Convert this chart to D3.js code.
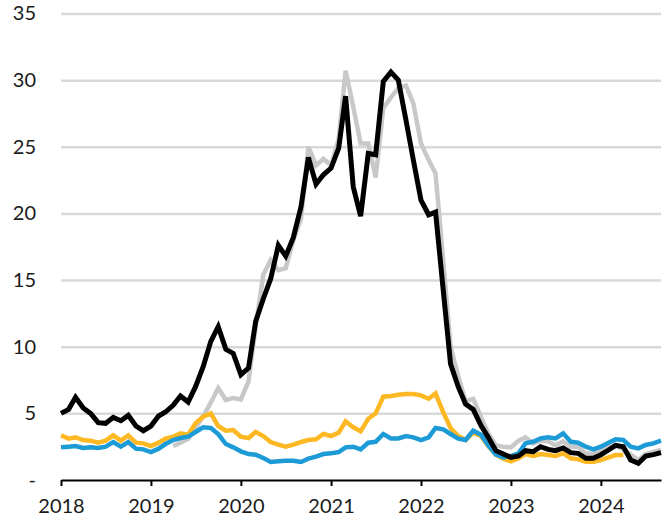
<!DOCTYPE html>
<html>
<head>
<meta charset="utf-8">
<script src="https://cdn.jsdelivr.net/npm/d3@7"></script>
<style>
  body { margin: 0; background: #fff; }
  svg { display: block; }
</style>
</head>
<body>
<div id="chart"></div>
<script>
// monthly series, Jan 2018 - Sep 2024
var startMonth = new Date(2018, 0, 1),
    endMonth = new Date(2024, 8, 1);

var yTicks = [0, 5, 10, 15, 20, 25, 30, 35];
var xTickYears = [2018, 2019, 2020, 2021, 2022, 2023, 2024];

var blackSeries = [
  5.0, 5.3, 6.2, 5.4, 5.0, 4.3, 4.25, 4.7, 4.45, 4.85,
  4.05, 3.7, 4.05, 4.8, 5.1, 5.6, 6.3, 5.85, 7.0, 8.5,
  10.4, 11.5, 9.8, 9.5, 7.9, 8.4, 11.9, 13.6, 15.1, 17.6,
  16.8, 18.2, 20.5, 24.2, 22.2, 22.9, 23.4, 24.9, 28.8, 22.0,
  19.8, 24.5, 24.4, 29.9, 30.6, 30.0, 27.0, 24.0, 21.0, 19.9,
  20.1, 14.3, 8.7, 7.0, 5.7, 5.3, 4.1, 3.2, 2.2, 1.95,
  1.7, 1.8, 2.2, 2.12, 2.5, 2.3, 2.2, 2.4, 2.05, 2.0,
  1.63, 1.63, 1.9, 2.25, 2.6, 2.5, 1.5, 1.25, 1.8, 1.9, 2.05
];

var graySeries = [
  null, null, null, null, null, null, null, null, null, null,
  null, null, null, null, null, 2.55, 2.8, 3.1, 3.9, 4.8,
  5.8, 6.9, 6.0, 6.15, 6.05, 7.4, 11.5, 15.4, 16.5, 15.75,
  15.9, 18.0, 19.6, 25.0, 23.6, 24.1, 23.6, 25.6, 30.7, 28.0,
  25.25, 25.25, 22.7, 27.9, 28.7, 29.4, 29.6, 28.25, 25.25, 24.0,
  23.0, 16.5, 10.0, 7.8, 5.9, 6.1, 4.75, 3.5, 2.6, 2.5,
  2.45, 2.95, 3.2, 2.75, 2.95, 2.9, 2.6, 2.9, 2.5, 2.5,
  2.0, 1.95, 2.25, 2.5, 2.6, 2.3, 1.9, 1.5, 1.95, 2.1, 2.25
];

var orangeSeries = [
  3.35, 3.1, 3.2, 3.0, 2.95, 2.8, 2.95, 3.35, 2.95, 3.35,
  2.8, 2.75, 2.55, 2.8, 3.1, 3.25, 3.5, 3.4, 4.25, 4.75,
  5.0, 4.05, 3.7, 3.75, 3.25, 3.15, 3.6, 3.3, 2.85, 2.65,
  2.5, 2.65, 2.85, 3.0, 3.05, 3.45, 3.3, 3.55, 4.4, 3.95,
  3.65, 4.6, 5.0, 6.25, 6.3, 6.4, 6.45, 6.45, 6.35, 6.1,
  6.5, 5.1, 3.9, 3.3, 3.0, 3.55, 3.3, 2.55, 1.9, 1.6,
  1.4, 1.63, 1.95, 1.8, 1.95, 1.87, 1.8, 2.0, 1.63, 1.55,
  1.37, 1.37, 1.5, 1.7, 1.87, 1.87
];

var blueSeries = [
  2.45, 2.5, 2.55, 2.4, 2.45, 2.4, 2.5, 2.85, 2.5, 2.85,
  2.35, 2.3, 2.1, 2.35, 2.7, 3.0, 3.15, 3.25, 3.6, 3.95,
  3.9, 3.45, 2.7, 2.45, 2.15, 1.95, 1.9, 1.65, 1.35, 1.4,
  1.45, 1.45, 1.35, 1.6, 1.75, 1.95, 2.0, 2.1, 2.45, 2.5,
  2.3, 2.8, 2.87, 3.45, 3.12, 3.12, 3.3, 3.2, 3.0, 3.2,
  3.9, 3.8, 3.45, 3.1, 3.0, 3.7, 3.4, 2.6, 1.9, 1.7,
  1.8, 2.0, 2.75, 2.87, 3.12, 3.2, 3.12, 3.5, 2.87, 2.8,
  2.5, 2.3, 2.5, 2.8, 3.05, 3.0, 2.5, 2.37, 2.63, 2.75, 2.95
];

var width = 663, height = 519;
var margin = { left: 61, right: 2, top: 13.5, bottom: 39 };
var figw = width - margin.left - margin.right,
    figh = height - margin.top - margin.bottom;
var fontFamily = "Lato, 'Open Sans', sans-serif";

var months = d3.timeMonth.range(startMonth, d3.timeMonth.offset(endMonth, 1));

var xScale = d3.scaleTime().domain([startMonth, endMonth]).range([0, figw]);
var yScale = d3.scaleLinear().domain([0, 35]).range([figh, 0]);

var svg = d3.select("#chart").append("svg")
    .attr("width", width)
    .attr("height", height);

var g = svg.append("g")
    .attr("transform", "translate(" + margin.left + "," + margin.top + ")");

// y axis with gridlines
var yAxis = g.append("g")
    .attr("class", "y axis")
    .call(d3.axisLeft(yScale)
      .tickValues(yTicks)
      .tickSize(-figw)
      .tickPadding(25)
      .tickFormat(function(d) { return d === 0 ? "-" : d; }))
    .attr("font-family", fontFamily)
    .attr("font-size", 20);
yAxis.select(".domain").remove();
yAxis.selectAll("line")
    .attr("stroke", "#d9d9d9")
    .attr("stroke-width", 2.5)
    .style("display", function(d) { return d === 0 ? "none" : null; });
yAxis.selectAll("text").attr("fill", "#1a1a1a");

// x axis
var xAxis = g.append("g")
    .attr("class", "x axis")
    .attr("transform", "translate(0," + figh + ")")
    .call(d3.axisBottom(xScale)
      .tickValues(xTickYears.map(function(yr) { return new Date(yr, 0, 1); }))
      .tickFormat(d3.timeFormat("%Y"))
      .tickSize(6)
      .tickSizeOuter(0)
      .tickPadding(13))
    .attr("font-family", fontFamily)
    .attr("font-size", 20);
xAxis.select(".domain").attr("stroke", "#000").attr("stroke-width", 2);
xAxis.selectAll("line").attr("stroke", "#000").attr("stroke-width", 2);
xAxis.selectAll("text").attr("fill", "#1a1a1a");

// lines
var line = d3.line()
    .defined(function(d) { return d[1] != null; })
    .x(function(d) { return xScale(d[0]); })
    .y(function(d) { return yScale(d[1]); });

var series = [
  { values: graySeries, color: "#c8c8c8", w: 4.5 },
  { values: orangeSeries, color: "#fdb823", w: 4.5 },
  { values: blueSeries, color: "#1d9bd7", w: 4.5 },
  { values: blackSeries, color: "#000000", w: 5 }
];

g.selectAll(".series")
  .data(series)
  .enter().append("path")
    .attr("class", "series")
    .attr("fill", "none")
    .attr("stroke", function(s) { return s.color; })
    .attr("stroke-width", function(s) { return s.w; })
    .attr("d", function(s) {
      return line(s.values.map(function(v, i) { return [months[i], v]; }));
    });
</script>
</body>
</html>
